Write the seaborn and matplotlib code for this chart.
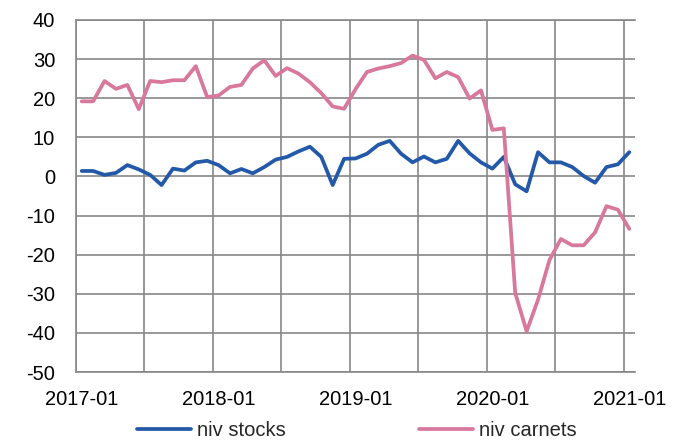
import numpy as np
import pandas as pd
import seaborn as sns
import matplotlib.pyplot as plt
from matplotlib.ticker import FixedLocator, FixedFormatter

# monthly values, 2017-01 .. 2021-01
months = pd.period_range('2017-01', '2021-01', freq='M').strftime('%Y-%m').tolist()
niv_stocks = [1.4, 1.4, 0.4, 0.9, 2.9, 1.8, 0.4, -2.2, 2.0, 1.5, 3.6, 4.0, 2.9,
              0.8, 1.9, 0.8, 2.4, 4.3, 5.0, 6.4, 7.6, 5.0, -2.2, 4.5, 4.6,
              5.8, 8.1, 9.1, 5.8, 3.6, 5.1, 3.6, 4.5, 9.1, 5.9, 3.6, 2.0,
              5.0, -2.0, -3.8, 6.2, 3.6, 3.6, 2.4, 0.1, -1.6, 2.4, 3.1, 6.2]
niv_carnets = [19.2, 19.2, 24.4, 22.4, 23.4, 17.2, 24.4, 24.1, 24.6, 24.6, 28.2, 20.3, 20.7,
               22.9, 23.4, 27.6, 29.7, 25.7, 27.7, 26.3, 24.1, 21.3, 17.9, 17.3, 22.3,
               26.7, 27.6, 28.2, 29.0, 30.9, 29.8, 25.1, 26.7, 25.4, 19.9, 22.0, 11.9,
               12.3, -29.8, -39.6, -31.5, -21.4, -16.0, -17.6, -17.6, -14.3, -7.6, -8.5, -13.4]
xlabels = ['2017-01', '2018-01', '2019-01', '2020-01', '2021-01']

n = len(months)
pos = np.arange(n) + 0.5
df = pd.DataFrame({
    'pos': np.concatenate([pos, pos]),
    'value': niv_stocks + niv_carnets,
    'serie': ['niv stocks'] * n + ['niv carnets'] * n,
})

sns.set_style('white')
plt.rcParams['font.family'] = ['Liberation Sans', 'DejaVu Sans']
plt.rcParams['axes.unicode_minus'] = False

fig = plt.figure(figsize=(6.82, 4.46), dpi=100)
ax = fig.add_axes([76 / 682, 1 - 372 / 446, 559 / 682, 352 / 446])

sns.lineplot(data=df, x='pos', y='value', hue='serie', ax=ax,
             palette={'niv stocks': '#2359A8', 'niv carnets': '#D8789C'},
             linewidth=2.7)

grid_c = '#878787'
ax.set_xlim(0, n)
ax.set_ylim(-50, 40)
ax.set_yticks(np.arange(-50, 41, 10))
ax.xaxis.set_major_locator(FixedLocator(np.arange(0, n, 6)))
ax.xaxis.set_major_formatter(FixedFormatter([''] * 9))
ax.xaxis.set_minor_locator(FixedLocator([0.5, 12.5, 24.5, 36.5, 48.5]))
ax.xaxis.set_minor_formatter(FixedFormatter(xlabels))
ax.grid(True, which='major', color=grid_c, linewidth=1.2)
ax.set_axisbelow(True)
ax.tick_params(axis='both', which='both', length=0, labelsize=14.5, colors='black')
ax.tick_params(axis='x', which='minor', pad=13)
ax.tick_params(axis='y', pad=15)
ax.set_xlabel('')
ax.set_ylabel('')

for s in ['left', 'bottom', 'top']:
    ax.spines[s].set_color(grid_c)
    ax.spines[s].set_linewidth(1.2)
ax.spines['right'].set_visible(False)

handles, labels = ax.get_legend_handles_labels()
ax.get_legend().remove()
fig.legend(handles, labels, loc='center', bbox_to_anchor=(357 / 682, 15 / 446),
           ncol=2, frameon=False, fontsize=14.5, handlelength=2.7,
           columnspacing=6.6, handletextpad=0.3, borderpad=0)

fig.savefig('out.png', dpi=100)
